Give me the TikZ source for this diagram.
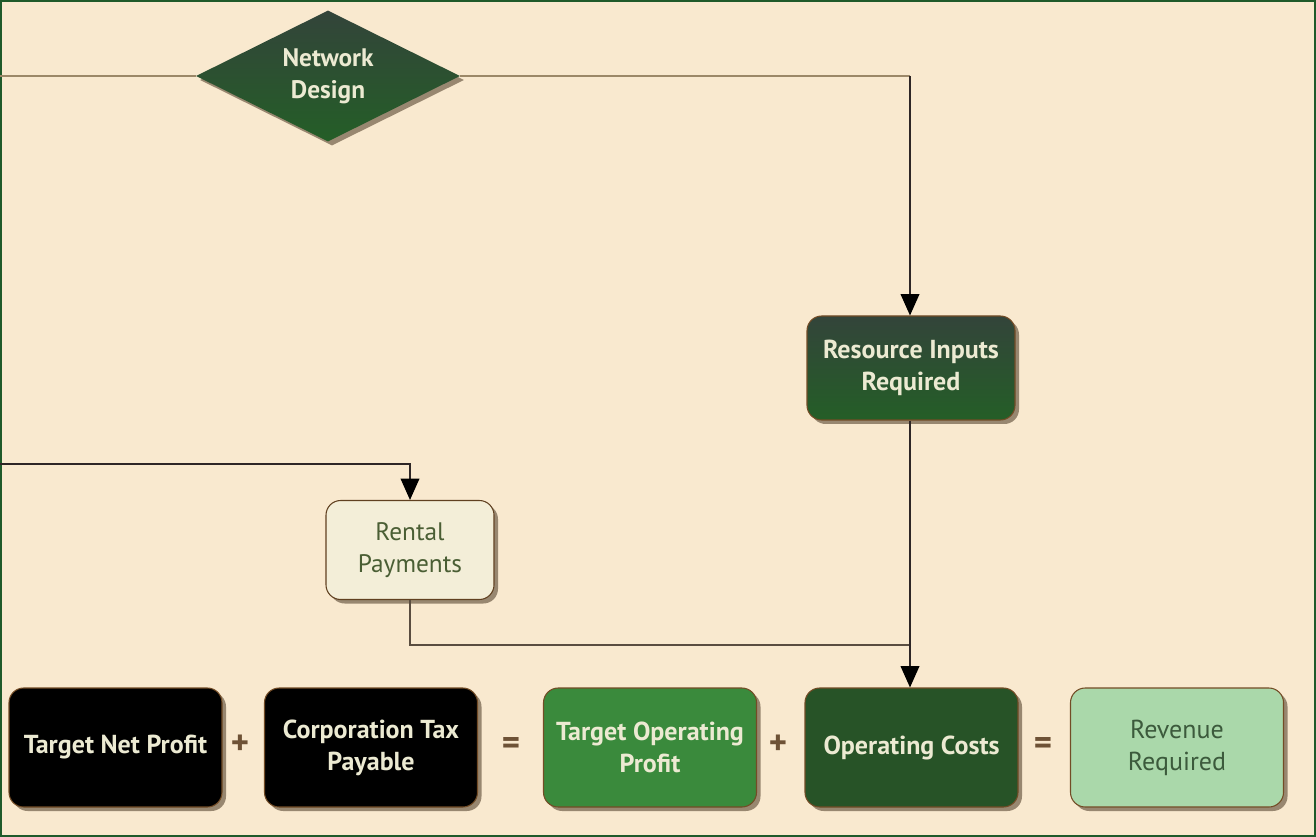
\documentclass[tikz,border=0pt]{standalone}
\usepackage{fontspec}
\setmainfont{PT Sans}
\usetikzlibrary{shapes.geometric,shadows,arrows.meta}
\definecolor{bg}{HTML}{F9E9CF}
\definecolor{frame}{HTML}{1F5A2A}
\definecolor{dkgA}{HTML}{33443A}
\definecolor{dkgB}{HTML}{245E27}
\definecolor{cream}{HTML}{ECEAD2}
\definecolor{midg}{HTML}{3A8A3C}
\definecolor{opg}{HTML}{275327}
\definecolor{lightg}{HTML}{AAD8AA}
\definecolor{lighttext}{HTML}{3C5A3C}
\definecolor{rentfill}{HTML}{F3EED8}
\definecolor{renttext}{HTML}{4A5E34}
\definecolor{linetan}{HTML}{9C8868}
\definecolor{linedark}{HTML}{2E2626}
\tikzset{
  shade/.style={drop shadow={shadow xshift=3pt,shadow yshift=-3pt,opacity=0.5,fill=black!70!brown}},
  boxbase/.style={rounded corners=11pt,minimum width={213*0.75pt},minimum height={119*0.75pt},
    align=center,font=\fontsize{19.5}{24}\selectfont\bfseries,text=cream,shade,draw=black!40!brown,line width=0.8pt},
  blackbox/.style={boxbase,fill=black},
  conn/.style={line width=1.1pt,color=linedark},
  arr/.style={conn,-{Triangle[width=14pt,length=16pt,color=black]}},
  sym/.style={font=\fontsize{26}{28}\selectfont\bfseries,text=black!45!brown!80!gray}
}
\begin{document}
\begin{tikzpicture}[x=0.75pt,y=-0.75pt]
\fill[bg] (0,0) rectangle (1316,837);
\draw[frame,line width=1.5pt] (1,1) rectangle (1315,836);
\useasboundingbox (0,0) rectangle (1316,837);

% Network Design diamond
\node[diamond,aspect=2,inner sep=0pt,minimum width={264*0.75pt},minimum height={131*0.75pt},
  top color=dkgA,bottom color=dkgB,shade,align=center,text=cream,
  font=\fontsize{19}{24}\selectfont\bfseries] (nd) at (328,76) {Network\\Design};
\coordinate (lin) at (0,76);
\coordinate (cornerA) at (910,76);

% Resource Inputs Required
\node[boxbase,minimum width={208*0.75pt},minimum height={104*0.75pt},top color=dkgA,bottom color=dkgB] (ri) at (911,368) {Resource Inputs\\Required};

% Rental payments
\node[boxbase,minimum width={168*0.75pt},minimum height={99*0.75pt},fill=rentfill,text=renttext,
  font=\fontsize{19}{24}\selectfont,draw=black!50!brown] (rp) at (410,550) {Rental\\Payments};
\coordinate (lin2) at (0,464);

% bottom row
\node[blackbox] (tnp) at (115.5,747.5) {Target Net Profit};
\node[sym] (p1) at (240,745) {+};
\node[blackbox] (ctp) at (371,747.5) {Corporation Tax\\Payable};
\node[sym] (e1) at (511,746) {=};
\node[boxbase,fill=midg] (top) at (650,747.5) {Target Operating\\Profit};
\node[sym] (p2) at (778,745) {+};
\node[boxbase,fill=opg] (oc) at (911.5,747.5) {Operating Costs};
\node[sym] (e2) at (1043,746) {=};
\node[boxbase,fill=lightg,text=lighttext,font=\fontsize{19.5}{24}\selectfont] (rr) at (1177,747.5) {Revenue\\Required};

% connectors
\draw[conn,color=linetan] (lin) -- (nd.west);
\draw[conn,color=linetan] (nd.east) -- (cornerA);
\draw[arr] (cornerA) -- (ri.north -| cornerA);
\draw[arr] (lin2) -| (rp.north);
\coordinate (join) at (910,645);
\draw[conn,color=linedark!60!linetan] (rp.south) |- (join);
\draw[arr] (ri.south -| cornerA) -- (oc.north -| cornerA);
\end{tikzpicture}
\end{document}
